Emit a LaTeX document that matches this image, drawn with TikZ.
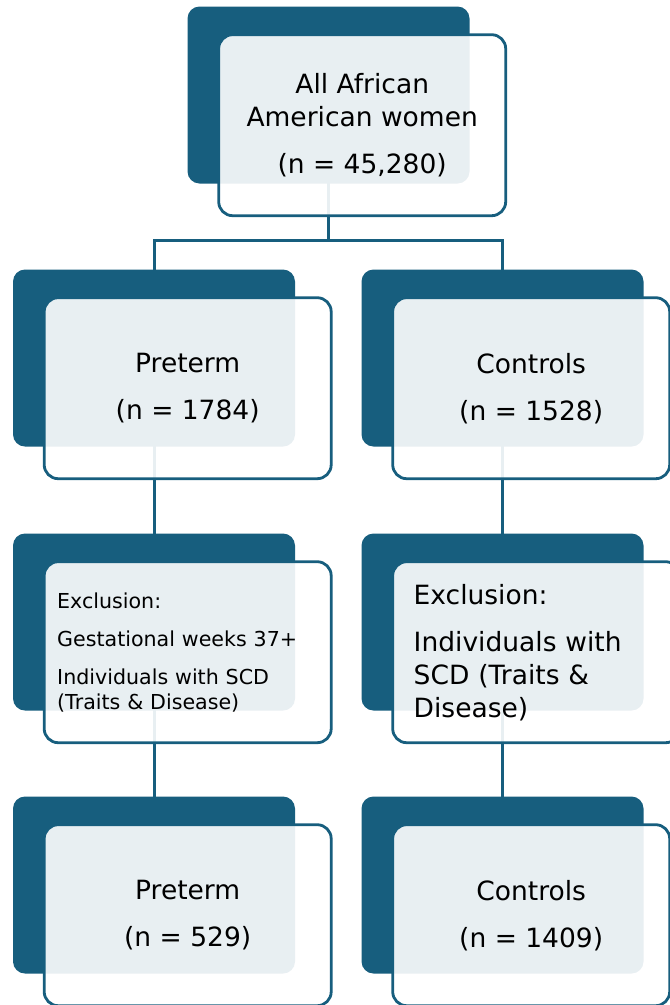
\documentclass[tikz,border=0pt]{standalone}
\usepackage{fontspec}
\setmainfont{DejaVu Sans}
\usetikzlibrary{backgrounds,positioning}

\definecolor{boxblue}{RGB}{23,94,126}

\tikzset{
  backbox/.style={fill=boxblue, rounded corners=12pt, minimum width=282pt,
    minimum height=177pt, inner sep=0pt},
  frontbox/.style={draw=boxblue, line width=2.8pt, fill=white, fill opacity=0.9,
    text opacity=1, rounded corners=14pt, minimum width=287pt, minimum height=181pt,
    anchor=north west, xshift=30pt, yshift=-27pt, align=center, inner sep=0pt,
    font=\fontsize{26.5}{33}\selectfont},
  narrow/.style={minimum width=277pt},
  exclbox/.style={align=left, text width=261pt, inner xsep=13pt},
  smalltext/.style={font=\fontsize{20.6}{25}\selectfont},
  link/.style={draw=boxblue, line width=3pt},
}

\begin{document}
\begin{tikzpicture}[x=1pt, y=-1pt]
    \useasboundingbox (0,0) rectangle (670,1005);

    % back panels
    \node[backbox] (allb) at (328.5,95) {};
    \foreach \nm/\y in {1/358, 2/622, 3/885} {
        \node[backbox] (pre\nm b) at (154,\y) {};
        \node[backbox] (con\nm b) at (502.5,\y) {};
    }

    % front panels
    \node[frontbox] (all) at (allb.north west) {All African\\American women\\[14pt](n = 45,280)};
    \node[frontbox] (pre1) at (pre1b.north west) {Preterm\\[14pt](n = 1784)};
    \node[frontbox, narrow] (con1) at (con1b.north west) {Controls\\[14pt](n = 1528)};
    \node[frontbox, exclbox, smalltext] (pre2) at (pre2b.north west)
        {Exclusion:\\[13pt]Gestational weeks 37+\\[13pt]Individuals with SCD\\(Traits \& Disease)};
    \node[frontbox, exclbox, text width=245pt, inner xsep=16pt] (con2) at (con2b.north west)
        {Exclusion:\\[14pt]Individuals with\\SCD (Traits \&\\Disease)};
    \node[frontbox] (pre3) at (pre3b.north west) {Preterm\\[14pt](n = 529)};
    \node[frontbox, narrow] (con3) at (con3b.north west) {Controls\\[14pt](n = 1409)};

    % connectors, behind the panels
    \begin{scope}[on background layer]
        \coordinate (split) at (328.5,240);
        \draw[link] (allb.center) -- (split) -| (pre1b.center);
        \draw[link] (split) -| (con1b.center);
        \foreach \a/\b in {pre1b/pre2b, pre2b/pre3b, con1b/con2b, con2b/con3b}
            \draw[link] (\a.center) -- (\b.center);
    \end{scope}
\end{tikzpicture}
\end{document}
